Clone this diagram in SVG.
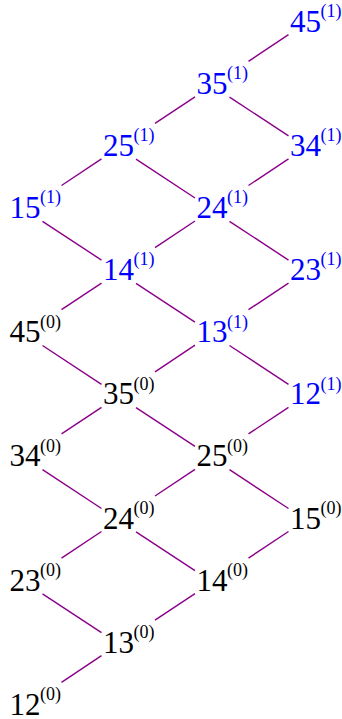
<svg xmlns="http://www.w3.org/2000/svg" width="342" height="719" viewBox="0 0 342 719">
<style>
.m{font-family:"Liberation Serif","Times New Roman",serif;font-size:31px}
.s{font-family:"Liberation Serif","Times New Roman",serif;font-size:18px}
.b{fill:#0000ff}
.k{fill:#000000}
.e line{stroke:#8a008a;stroke-width:1.4;fill:none}
</style>
<rect width="342" height="719" fill="#ffffff"/>
<g id="connectors" class="e">
<line x1="288.5" y1="34.7" x2="248.5" y2="61.3"/>
<line x1="195" y1="96.8" x2="155" y2="123.4"/>
<line x1="288.5" y1="158.9" x2="248.5" y2="185.5"/>
<line x1="101.5" y1="158.9" x2="61.5" y2="185.5"/>
<line x1="195" y1="221" x2="155" y2="247.6"/>
<line x1="288.5" y1="283.1" x2="248.5" y2="309.7"/>
<line x1="101.5" y1="283.1" x2="61.5" y2="309.7"/>
<line x1="195" y1="345.2" x2="155" y2="371.8"/>
<line x1="288.5" y1="407.3" x2="248.5" y2="433.9"/>
<line x1="101.5" y1="407.3" x2="61.5" y2="433.9"/>
<line x1="195" y1="469.4" x2="155" y2="496"/>
<line x1="288.5" y1="531.5" x2="248.5" y2="558.1"/>
<line x1="101.5" y1="531.5" x2="61.5" y2="558.1"/>
<line x1="195" y1="593.6" x2="155" y2="620.2"/>
<line x1="101.5" y1="655.7" x2="61.5" y2="682.3"/>
<line x1="229.5" y1="97.1" x2="288.5" y2="135.9"/>
<line x1="136" y1="159.2" x2="195" y2="198"/>
<line x1="229.5" y1="221.3" x2="288.5" y2="260.1"/>
<line x1="42.5" y1="221.3" x2="101.5" y2="260.1"/>
<line x1="136" y1="283.4" x2="195" y2="322.2"/>
<line x1="229.5" y1="345.5" x2="288.5" y2="384.3"/>
<line x1="42.5" y1="345.5" x2="101.5" y2="384.3"/>
<line x1="136" y1="407.6" x2="195" y2="446.4"/>
<line x1="229.5" y1="469.7" x2="288.5" y2="508.5"/>
<line x1="42.5" y1="469.7" x2="101.5" y2="508.5"/>
<line x1="136" y1="531.8" x2="195" y2="570.6"/>
<line x1="42.5" y1="593.9" x2="101.5" y2="632.7"/>
</g>
<g id="n45_1" class="b"><text class="m" x="290" y="31.7">45</text><text class="s" x="320.5" y="17">(1)</text></g>
<g id="n35_1" class="b"><text class="m" x="196.5" y="93.8">35</text><text class="s" x="227" y="79.1">(1)</text></g>
<g id="n34_1" class="b"><text class="m" x="290" y="155.9">34</text><text class="s" x="320.5" y="141.2">(1)</text></g>
<g id="n25_1" class="b"><text class="m" x="103" y="155.9">25</text><text class="s" x="133.5" y="141.2">(1)</text></g>
<g id="n24_1" class="b"><text class="m" x="196.5" y="218">24</text><text class="s" x="227" y="203.3">(1)</text></g>
<g id="n15_1" class="b"><text class="m" x="9.5" y="218">15</text><text class="s" x="40" y="203.3">(1)</text></g>
<g id="n23_1" class="b"><text class="m" x="290" y="280.1">23</text><text class="s" x="320.5" y="265.4">(1)</text></g>
<g id="n14_1" class="b"><text class="m" x="103" y="280.1">14</text><text class="s" x="133.5" y="265.4">(1)</text></g>
<g id="n13_1" class="b"><text class="m" x="196.5" y="342.2">13</text><text class="s" x="227" y="327.5">(1)</text></g>
<g id="n45_0" class="k"><text class="m" x="9.5" y="342.2">45</text><text class="s" x="40" y="327.5">(0)</text></g>
<g id="n12_1" class="b"><text class="m" x="290" y="404.3">12</text><text class="s" x="320.5" y="389.6">(1)</text></g>
<g id="n35_0" class="k"><text class="m" x="103" y="404.3">35</text><text class="s" x="133.5" y="389.6">(0)</text></g>
<g id="n25_0" class="k"><text class="m" x="196.5" y="466.4">25</text><text class="s" x="227" y="451.7">(0)</text></g>
<g id="n34_0" class="k"><text class="m" x="9.5" y="466.4">34</text><text class="s" x="40" y="451.7">(0)</text></g>
<g id="n15_0" class="k"><text class="m" x="290" y="528.5">15</text><text class="s" x="320.5" y="513.8">(0)</text></g>
<g id="n24_0" class="k"><text class="m" x="103" y="528.5">24</text><text class="s" x="133.5" y="513.8">(0)</text></g>
<g id="n14_0" class="k"><text class="m" x="196.5" y="590.6">14</text><text class="s" x="227" y="575.9">(0)</text></g>
<g id="n23_0" class="k"><text class="m" x="9.5" y="590.6">23</text><text class="s" x="40" y="575.9">(0)</text></g>
<g id="n13_0" class="k"><text class="m" x="103" y="652.7">13</text><text class="s" x="133.5" y="638">(0)</text></g>
<g id="n12_0" class="k"><text class="m" x="9.5" y="714.8">12</text><text class="s" x="40" y="700.1">(0)</text></g>
</svg>
